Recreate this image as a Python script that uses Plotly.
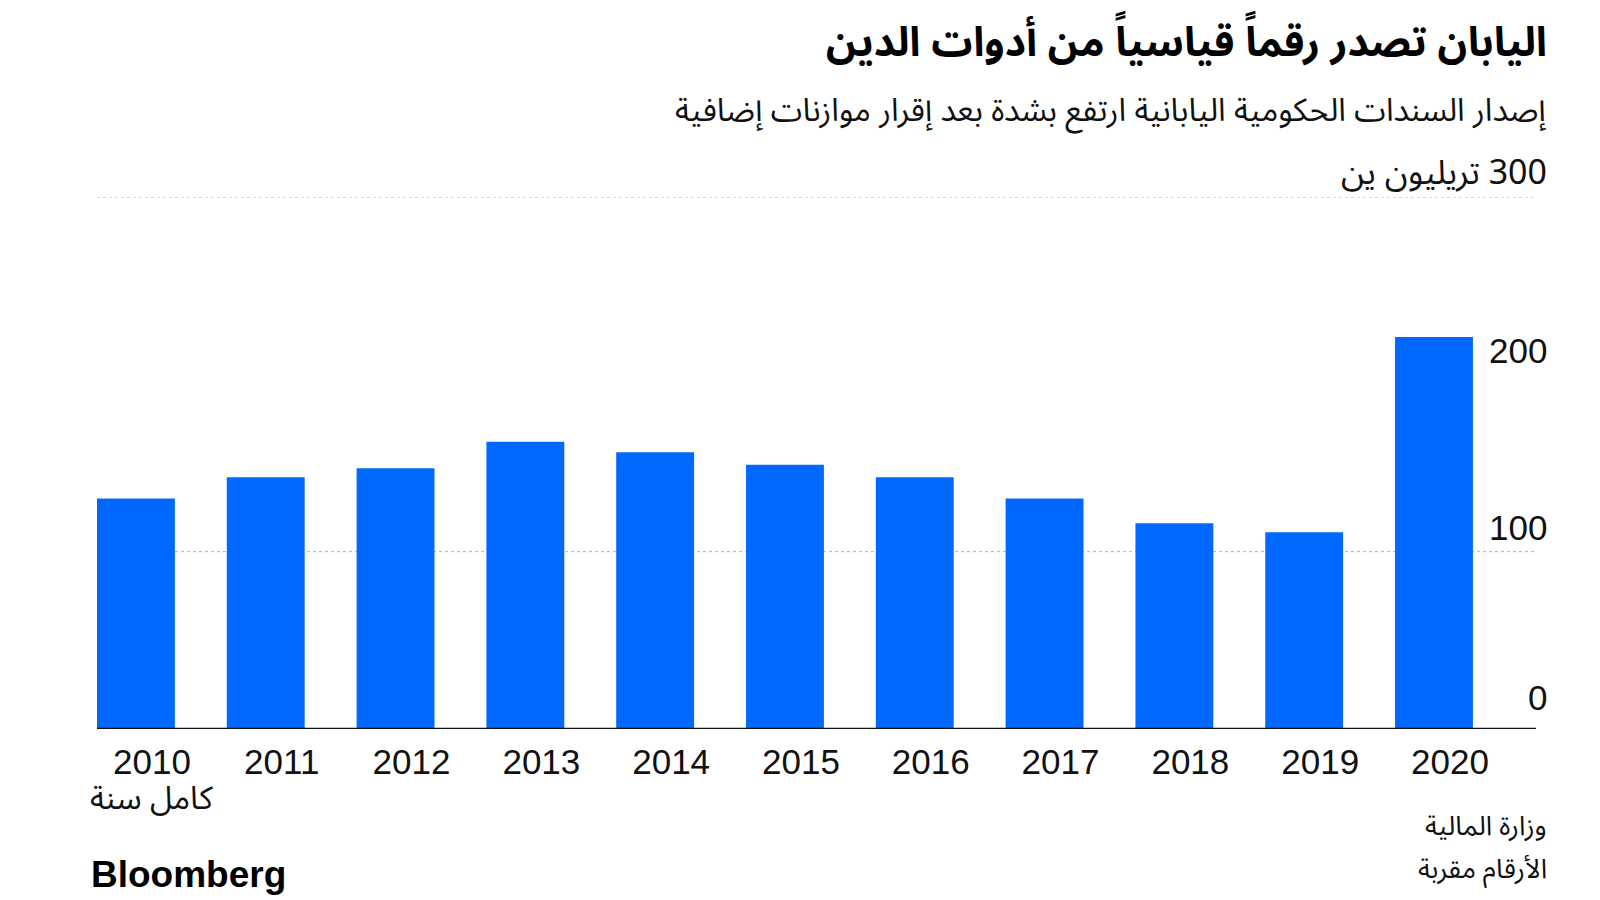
import plotly.graph_objects as go

years = ["2010", "2011", "2012", "2013", "2014", "2015", "2016", "2017", "2018", "2019", "2020"]
values = [130, 142, 147, 162, 156, 149, 142, 130, 116, 111, 221]
ytick_vals = [0, 100, 200]
ytick_text = ["0", "100", "200"]
grid_vals = [100, 300]

title = "اليابان تصدر رقماً قياسياً من أدوات الدين"
subtitle = "إصدار السندات الحكومية اليابانية ارتفع بشدة بعد إقرار موازنات إضافية"
unit_label = "\u200f300 تريليون ين"
first_note = "كامل سنة"
source1 = "وزارة المالية"
source2 = "الأرقام مقربة"

AR = "Noto Sans Arabic, Noto Sans, DejaVu Sans, sans-serif"
LAT = "Liberation Sans, Arial, sans-serif"
BLUE = "#0068ff"

L, R, T, B = 97, 64, 197, 171
W, H = 1600, 900

def px_x(p):
    return (p - L) / (W - L - R)

def px_y(p):
    return ((H - B) - p) / (H - B - T)

xs = list(range(len(years)))

fig = go.Figure()
fig.add_trace(go.Bar(x=xs, y=values, marker=dict(color=BLUE, line=dict(width=0)),
                     width=0.6, hoverinfo="skip"))

fig.update_layout(
    width=W, height=H,
    margin=dict(l=L, r=R, t=T, b=B),
    paper_bgcolor="white", plot_bgcolor="white",
    showlegend=False,
    xaxis=dict(range=[-0.3, 10.786], tickmode="array", tickvals=xs, ticktext=years,
               showgrid=False, zeroline=False, showline=False, ticks="",
               tickfont=dict(family=LAT, size=35, color="#111"),
               ticklabelshift=16, ticklabelstandoff=9),
    yaxis=dict(range=[0, 300], showgrid=False, zeroline=False, showline=False,
               showticklabels=False, ticks=""),
)

for g in grid_vals:
    fig.add_shape(type="line", xref="paper", yref="y", x0=0, x1=1, y0=g, y1=g,
                  line=dict(color="#b0b0b0", width=1, dash="dot"), layer="below")
fig.add_shape(type="line", xref="paper", yref="y", x0=0, x1=1, y0=0, y1=0,
              line=dict(color="#111", width=2.5), layer="above")

for v, t in zip(ytick_vals, ytick_text):
    fig.add_annotation(x=px_x(1549), xref="paper", y=v, yref="y", text=t, showarrow=False,
                       xanchor="right", yanchor="middle", yshift=32 if v == 0 else 24,
                       font=dict(family=LAT, size=35, color="#111"))

fig.add_annotation(x=0, xref="x", y=px_y(799), yref="paper", text=first_note, showarrow=False,
                   xanchor="center", yanchor="middle", xshift=16,
                   font=dict(family=AR, size=32, color="#111"))

fig.add_annotation(x=px_x(1549), y=px_y(43), xref="paper", yref="paper", text="<b>" + title + "</b>",
                   showarrow=False, xanchor="right", yanchor="middle",
                   font=dict(family=AR, size=41, color="#000"))
fig.add_annotation(x=px_x(1549), y=px_y(111), xref="paper", yref="paper", text=subtitle,
                   showarrow=False, xanchor="right", yanchor="middle",
                   font=dict(family=AR, size=32, color="#111"))
fig.add_annotation(x=px_x(1549), y=300, xref="paper", yref="y", text=unit_label,
                   showarrow=False, xanchor="right", yanchor="middle", yshift=24,
                   font=dict(family=AR, size=34, color="#111"))
fig.add_annotation(x=px_x(1549), y=px_y(826), xref="paper", yref="paper", text=source1,
                   showarrow=False, xanchor="right", yanchor="middle",
                   font=dict(family=AR, size=27, color="#111"))
fig.add_annotation(x=px_x(1549), y=px_y(869), xref="paper", yref="paper", text=source2,
                   showarrow=False, xanchor="right", yanchor="middle",
                   font=dict(family=AR, size=27, color="#111"))
fig.add_annotation(x=px_x(89), y=px_y(874), xref="paper", yref="paper", text="<b>Bloomberg</b>",
                   showarrow=False, xanchor="left", yanchor="middle",
                   font=dict(family=LAT, size=37, color="#000"))

fig.write_html("out.html")
